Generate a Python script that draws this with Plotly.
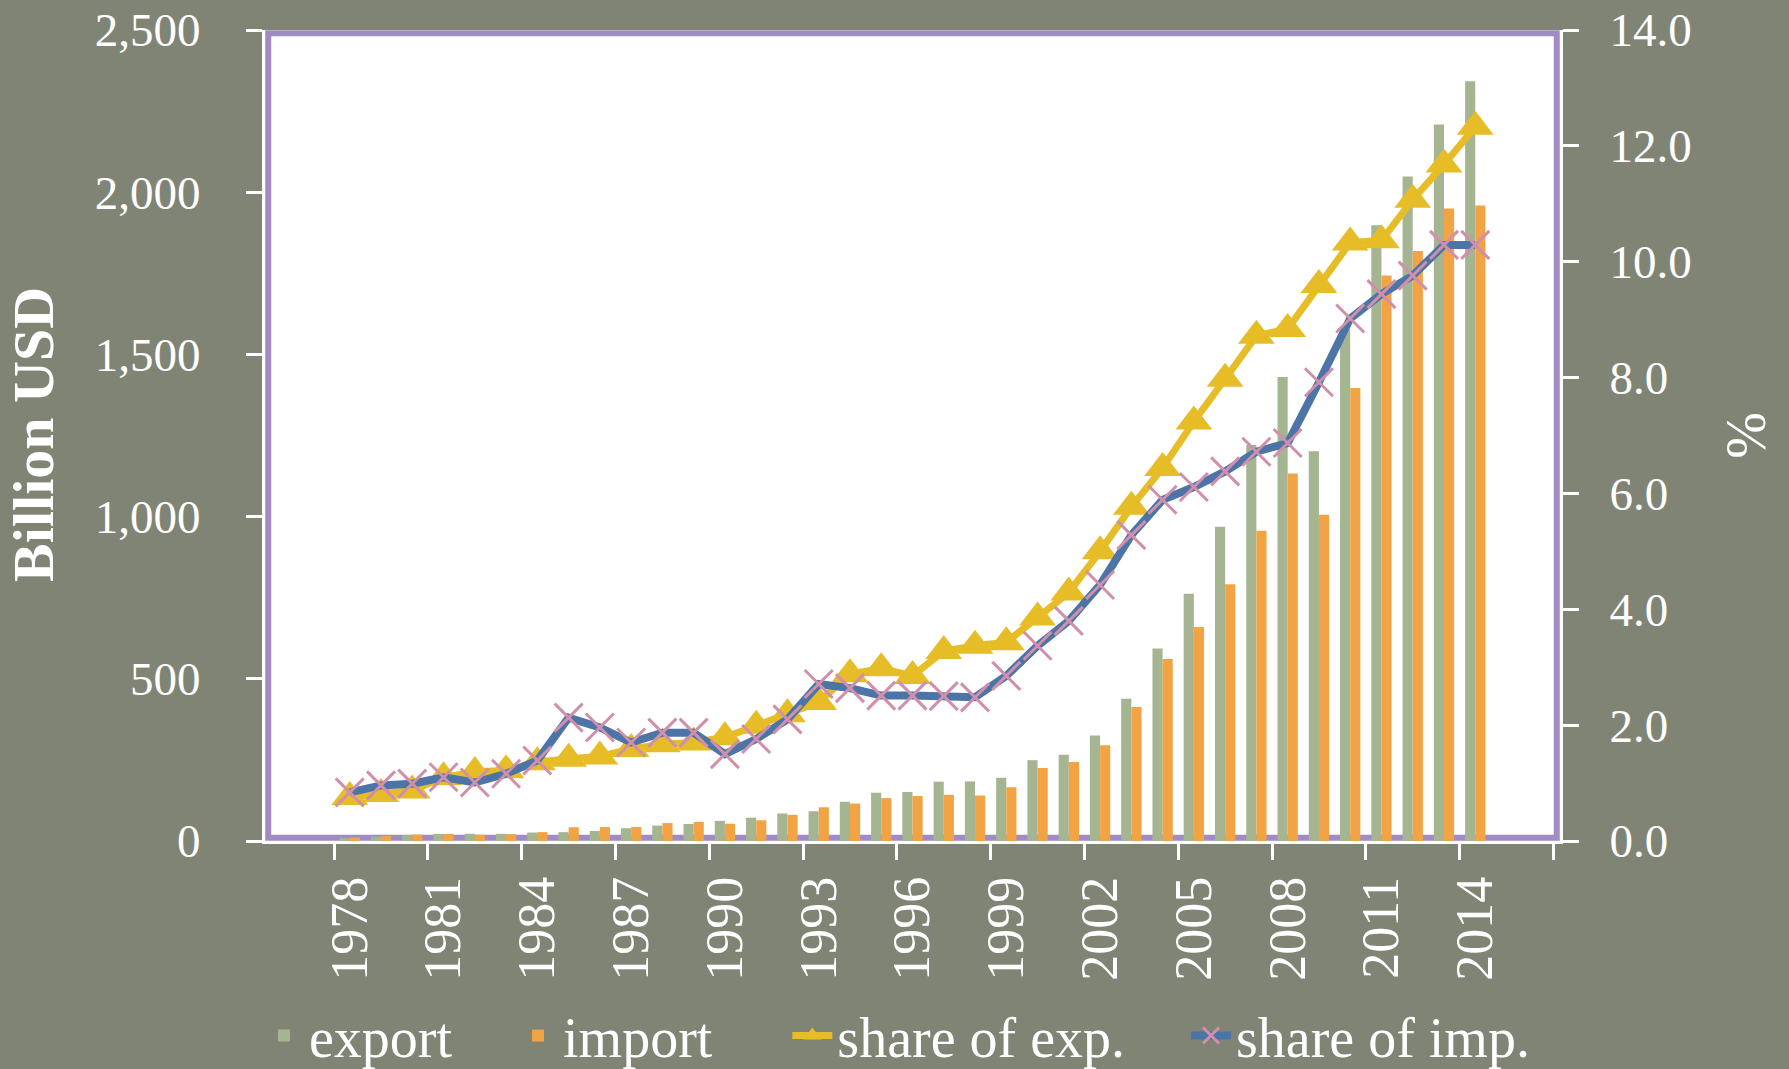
import plotly.graph_objects as go

years = [str(y) for y in range(1978, 2015)]
export_bn = [9.8, 13.7, 18.1, 22.0, 22.3, 22.2, 26.1, 27.4, 30.9, 39.4, 47.5, 52.5, 62.1, 71.8, 84.9, 91.7,
             121.0, 148.8, 151.0, 182.8, 183.7, 194.9, 249.2, 266.1, 325.6, 438.2, 593.3, 762.0, 968.9,
             1220.5, 1430.7, 1201.6, 1577.8, 1898.4, 2048.7, 2209.0, 2342.3]
import_bn = [10.9, 15.7, 20.0, 22.0, 19.3, 21.4, 27.4, 42.3, 42.9, 43.2, 55.3, 59.1, 53.3, 63.8, 80.6, 104.0,
             115.6, 132.1, 138.8, 142.4, 140.2, 165.7, 225.1, 243.6, 295.2, 412.8, 561.2, 660.0, 791.5,
             956.1, 1132.6, 1005.9, 1396.2, 1743.5, 1818.4, 1950.0, 1959.2]
share_exp = [0.76, 0.81, 0.87, 1.10, 1.19, 1.22, 1.36, 1.42, 1.46, 1.59, 1.67, 1.70, 1.79, 1.99, 2.19, 2.40,
             2.88, 2.98, 2.85, 3.28, 3.37, 3.43, 3.86, 4.29, 5.00, 5.77, 6.44, 7.24, 7.98, 8.72, 8.84,
             9.60, 10.33, 10.37, 11.07, 11.68, 12.33]
share_imp = [0.84, 0.96, 0.99, 1.10, 1.01, 1.16, 1.39, 2.13, 1.96, 1.70, 1.87, 1.87, 1.50, 1.76, 2.10, 2.71,
             2.64, 2.51, 2.51, 2.50, 2.48, 2.85, 3.37, 3.80, 4.42, 5.28, 5.89, 6.11, 6.38, 6.72, 6.87,
             7.92, 9.02, 9.44, 9.76, 10.29, 10.29]

left_ticks = [0, 500, 1000, 1500, 2000, 2500]
right_ticks = [0, 2, 4, 6, 8, 10, 12, 14]

BG = "#7F8475"
GREEN = "#A5B592"
ORANGE = "#F2A444"
YELLOW = "#E6BD27"
BLUE = "#4D74A6"
PINK = "#D08FAA"
PURPLE = "#A08BC4"
FONT = "Liberation Serif"
NB = "\u00a0"

fig = go.Figure()
fig.add_trace(go.Bar(x=years, y=export_bn, name="export" + NB * 4,
                     marker=dict(color=GREEN, line=dict(width=0))))
fig.add_trace(go.Bar(x=years, y=import_bn, name="import" + NB * 5,
                     marker=dict(color=ORANGE, line=dict(width=0))))
fig.add_trace(go.Scatter(x=years, y=share_exp, name="share of exp." + NB * 4, yaxis="y2",
                         mode="lines+markers", line=dict(color=YELLOW, width=7),
                         marker=dict(symbol="triangle-up", size=32, color=YELLOW)))
fig.add_trace(go.Scatter(x=years, y=share_imp, name="share of imp.", yaxis="y2", mode="lines+markers",
                         line=dict(color=BLUE, width=8),
                         marker=dict(symbol="x-thin", size=28, color=PINK, line=dict(color=PINK, width=3))))

ax_common = dict(automargin=False, showgrid=False, zeroline=False, ticks="outside", ticklen=16,
                 tickwidth=3, tickcolor="white", showline=True, linecolor="white", linewidth=3,
                 ticklabeloverflow="allow")

fig.update_layout(
    width=1789, height=1069,
    paper_bgcolor=BG, plot_bgcolor="white",
    margin=dict(l=265, r=229, t=30, b=228, autoexpand=False),
    barmode="group", bargap=0.35, bargroupgap=0.0,
    font=dict(family=FONT, color="white", size=48),
    showlegend=True,
    legend=dict(orientation="h", x=0.488, xanchor="center", y=-0.240, yanchor="middle",
                font=dict(family=FONT, size=56, color="white"), bgcolor="rgba(0,0,0,0)",
                traceorder="normal", itemwidth=40),
    xaxis=dict(type="category", tickmode="linear", tick0=0, dtick=3, tickson="boundaries",
               tickangle=-90, ticklabelstandoff=12,
               tickfont=dict(family=FONT, size=52, color="white"), **ax_common),
    yaxis=dict(range=[0, 2500], tickvals=left_ticks, tickformat=",d", ticklabelstandoff=36,
               tickfont=dict(family=FONT, size=47, color="white"), **ax_common),
    yaxis2=dict(range=[0, 14], tickvals=right_ticks, tickformat=".1f", overlaying="y", side="right",
                ticklabelstandoff=21, tickfont=dict(family=FONT, size=47, color="white"), **ax_common),
    shapes=[dict(type="rect", xref="paper", yref="paper", x0=0.0025, x1=0.9975, y0=0.004, y1=0.996,
                 line=dict(color=PURPLE, width=6), layer="below")],
    annotations=[
        dict(text="<b>Billion USD</b>", xref="paper", yref="paper", x=-0.179, y=0.501,
             textangle=-90, showarrow=False, font=dict(family=FONT, size=58, color="white"),
             xanchor="center", yanchor="middle"),
        dict(text="%", xref="paper", yref="paper", x=1.1436, y=0.501, textangle=-90, showarrow=False,
             font=dict(family=FONT, size=56, color="white"), xanchor="center", yanchor="middle"),
    ],
)

fig.write_html("out.html", config={"displayModeBar": False},
               post_script="document.body.style.margin='0';document.body.style.overflow='hidden';")
